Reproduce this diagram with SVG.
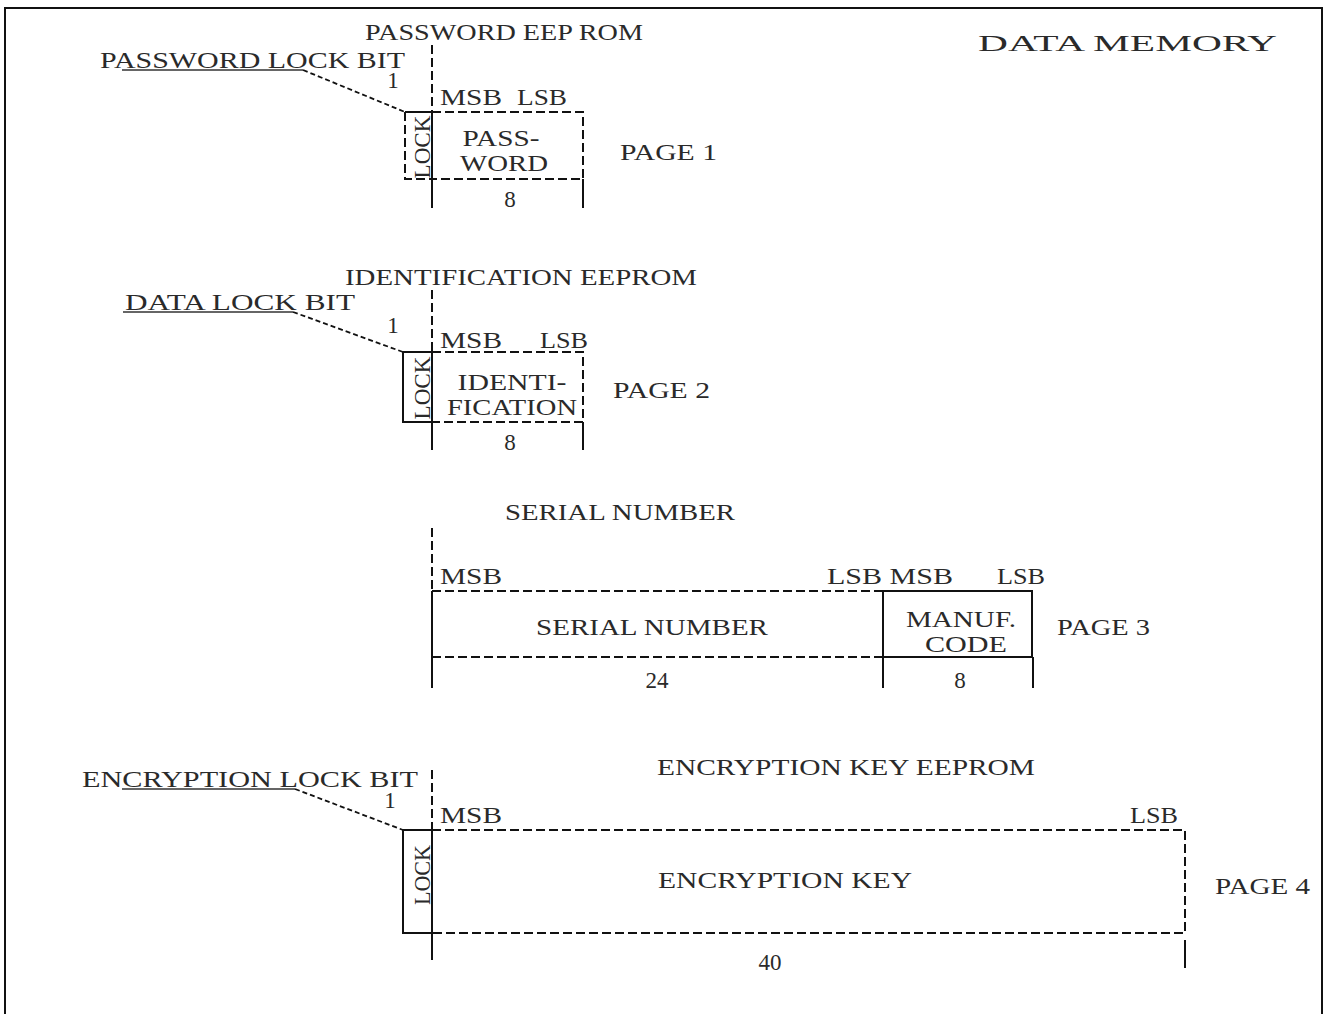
<svg xmlns="http://www.w3.org/2000/svg" width="1327" height="1014" viewBox="0 0 1327 1014">
<style>
text{font-family:"Liberation Serif","Times New Roman",serif;fill:#2a2a2a;font-size:23px}
.m{text-anchor:middle}
.s{stroke:#111;stroke-width:2;fill:none}
.d{stroke:#111;stroke-width:2;fill:none;stroke-dasharray:9 4}
.u{stroke:#333;stroke-width:1.5;fill:none}
.ld{stroke:#111;stroke-width:1.8;fill:none;stroke-dasharray:5 3}
</style>
<rect x="0" y="0" width="1327" height="1014" fill="#fff"/>
<path class="s" d="M5 1014 V8 H1322 V1014"/>
<text x="978" y="51" font-size="36" textLength="299" lengthAdjust="spacingAndGlyphs">DATA MEMORY</text>

<g id="page1">
<text x="365" y="40" textLength="278" lengthAdjust="spacingAndGlyphs">PASSWORD EEP ROM</text>
<text x="100" y="68" textLength="305" lengthAdjust="spacingAndGlyphs">PASSWORD LOCK BIT</text>
<path class="u" d="M122 70 H303"/>
<text x="393" y="88" class="m">1</text>
<text x="440" y="105" textLength="62" lengthAdjust="spacingAndGlyphs">MSB</text>
<text x="517" y="105" textLength="50" lengthAdjust="spacingAndGlyphs">LSB</text>
<path class="d" d="M432 45 V112"/>
<path class="s" d="M432 112 V208"/>
<path class="d" d="M405 112 V179 H432"/>
<path class="s" d="M405 112 H432"/>
<path class="d" d="M432 112 H583 V179 H432"/>
<path class="s" d="M583 179 V208"/>
<text transform="translate(430 147) rotate(-90)" class="m" textLength="63" lengthAdjust="spacingAndGlyphs">LOCK</text>
<text x="501" y="146" class="m" textLength="77" lengthAdjust="spacingAndGlyphs">PASS-</text>
<text x="504" y="171" class="m" textLength="88" lengthAdjust="spacingAndGlyphs">WORD</text>
<text x="510" y="207" class="m">8</text>
<text x="620" y="160" textLength="97" lengthAdjust="spacingAndGlyphs">PAGE 1</text>
</g>

<g id="page2">
<text x="345" y="285" textLength="352" lengthAdjust="spacingAndGlyphs">IDENTIFICATION EEPROM</text>
<text x="125" y="310" textLength="230" lengthAdjust="spacingAndGlyphs">DATA LOCK BIT</text>
<path class="u" d="M123 312 H293"/>
<text x="393" y="333" class="m">1</text>
<text x="440" y="348" textLength="62" lengthAdjust="spacingAndGlyphs">MSB</text>
<text x="540" y="348" textLength="48" lengthAdjust="spacingAndGlyphs">LSB</text>
<path class="d" d="M432 290 V352"/>
<path class="s" d="M432 352 V450"/>
<path class="s" d="M403 352 H432 M403 352 V422 H432"/>
<path class="d" d="M432 352 H583 V422 H432"/>
<path class="s" d="M583 422 V450"/>
<text transform="translate(430 388) rotate(-90)" class="m" textLength="63" lengthAdjust="spacingAndGlyphs">LOCK</text>
<text x="512" y="390" class="m" textLength="109" lengthAdjust="spacingAndGlyphs">IDENTI-</text>
<text x="512" y="415" class="m" textLength="130" lengthAdjust="spacingAndGlyphs">FICATION</text>
<text x="510" y="450" class="m">8</text>
<text x="613" y="398" textLength="97" lengthAdjust="spacingAndGlyphs">PAGE 2</text>
</g>

<g id="page3">
<text x="505" y="520" textLength="230" lengthAdjust="spacingAndGlyphs">SERIAL NUMBER</text>
<text x="440" y="584" textLength="62" lengthAdjust="spacingAndGlyphs">MSB</text>
<text x="827" y="584" textLength="126" lengthAdjust="spacingAndGlyphs">LSB MSB</text>
<text x="997" y="584" textLength="48" lengthAdjust="spacingAndGlyphs">LSB</text>
<path class="d" d="M432 528 V591"/>
<path class="s" d="M432 591 V688"/>
<path class="d" d="M432 591 H883 M432 657 H883"/>
<path class="s" d="M883 591 V688 M883 591 H1032 V657 H883 M1033 657 V688"/>
<text x="652" y="635" class="m" textLength="232" lengthAdjust="spacingAndGlyphs">SERIAL NUMBER</text>
<text x="961" y="627" class="m" textLength="110" lengthAdjust="spacingAndGlyphs">MANUF.</text>
<text x="966" y="652" class="m" textLength="82" lengthAdjust="spacingAndGlyphs">CODE</text>
<text x="657" y="688" class="m">24</text>
<text x="960" y="688" class="m">8</text>
<text x="1057" y="635" textLength="93" lengthAdjust="spacingAndGlyphs">PAGE 3</text>
</g>

<g id="page4">
<text x="657" y="775" textLength="378" lengthAdjust="spacingAndGlyphs">ENCRYPTION KEY EEPROM</text>
<text x="82" y="787" textLength="336" lengthAdjust="spacingAndGlyphs">ENCRYPTION LOCK BIT</text>
<path class="u" d="M122 789 H295"/>
<text x="390" y="808" class="m">1</text>
<text x="440" y="823" textLength="62" lengthAdjust="spacingAndGlyphs">MSB</text>
<text x="1130" y="823" textLength="48" lengthAdjust="spacingAndGlyphs">LSB</text>
<path class="d" d="M432 770 V830"/>
<path class="s" d="M432 830 V960"/>
<path class="s" d="M403 830 H432 M403 830 V933 H432"/>
<path class="d" d="M432 830 H1185 V933 H432"/>
<path class="s" d="M1185 940 V968"/>
<text transform="translate(430 875) rotate(-90)" class="m" textLength="60" lengthAdjust="spacingAndGlyphs">LOCK</text>
<text x="785" y="888" class="m" textLength="254" lengthAdjust="spacingAndGlyphs">ENCRYPTION KEY</text>
<text x="770" y="970" class="m">40</text>
<text x="1215" y="894" textLength="95" lengthAdjust="spacingAndGlyphs">PAGE 4</text>
</g>

<g id="connectors">
<path class="ld" d="M303 70 L405 112"/>
<path class="ld" d="M293 312 L403 352"/>
<path class="ld" d="M295 789 L403 830"/>
</g>
</svg>
